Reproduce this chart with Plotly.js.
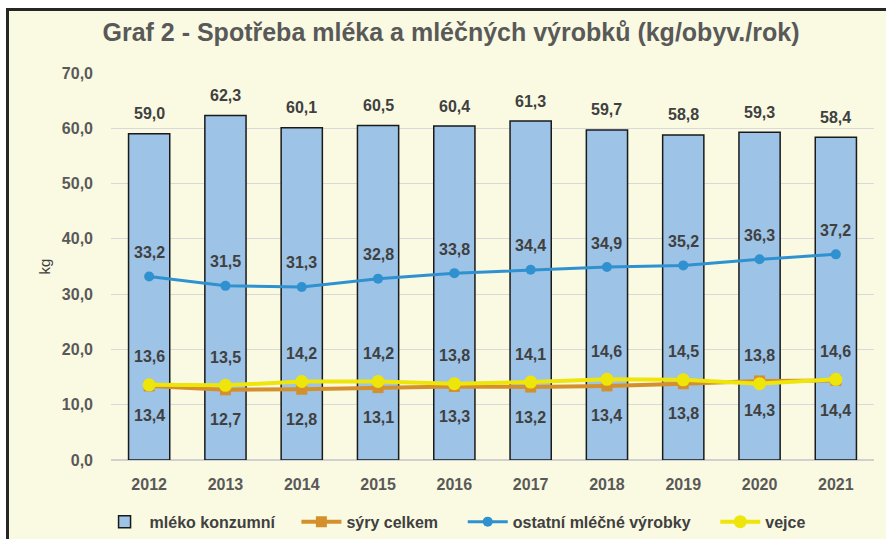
<!DOCTYPE html>
<html><head><meta charset="utf-8">
<script src="https://cdn.plot.ly/plotly-3.0.1.min.js"></script>
<style>
html,body{margin:0;padding:0;background:#fff;width:886px;height:539px;overflow:hidden;}
#frame{position:absolute;left:6px;top:8px;width:900px;height:560px;background:#FAFAE2;border-left:3px solid #262626;border-top:3px solid #262626;}
#chart{position:absolute;left:0;top:0;width:886px;height:539px;}
</style></head>
<body>
<div id="frame"></div>
<div id="chart"></div>
<script>
const years = ['2012','2013','2014','2015','2016','2017','2018','2019','2020','2021'];
const mleko = [59.0,62.3,60.1,60.5,60.4,61.3,59.7,58.8,59.3,58.4];
const syry = [13.4,12.7,12.8,13.1,13.3,13.2,13.4,13.8,14.3,14.4];
const ostatni = [33.2,31.5,31.3,32.8,33.8,34.4,34.9,35.2,36.3,37.2];
const vejce = [13.6,13.5,14.2,14.2,13.8,14.1,14.6,14.5,13.8,14.6];
const yTicks = [0,10,20,30,40,50,60,70];

const fmt = v => v.toFixed(1).replace('.', ',');
const fontFam = 'Liberation Sans Narrow, Liberation Sans, Arial';
const labelFont = {family:fontFam, size:16, color:'#404040', weight:'bold'};

const traces = [
  {type:'bar', name:'mléko konzumní', x:years, y:mleko, width:0.54, legend:'legend',
   marker:{color:'#9DC3E6', line:{color:'#1a1a1a', width:1.5}}},
  {type:'scatter', mode:'lines+markers', name:'sýry celkem', x:years, y:syry, legend:'legend2',
   line:{color:'#D4902C', width:4}, marker:{symbol:'square', size:11, color:'#D4902C'}},
  {type:'scatter', mode:'lines+markers', name:'ostatní mléčné výrobky', x:years, y:ostatni, legend:'legend3',
   line:{color:'#2F91D0', width:3}, marker:{symbol:'circle', size:10, color:'#2F91D0'}},
  {type:'scatter', mode:'lines+markers', name:'vejce', x:years, y:vejce, legend:'legend4',
   line:{color:'#EEE60A', width:4}, marker:{symbol:'circle', size:13, color:'#EEE60A'}}
];

const ann = [];
function addLabels(arr, shift){
  arr.forEach((v,i)=>ann.push({xref:'x', yref:'y', x:i, y:v, text:fmt(v), showarrow:false, yshift:shift, font:labelFont}));
}
addLabels(mleko, 20);
addLabels(ostatni, 24);
addLabels(vejce, 28);
addLabels(syry, -30);

function leg(x){
  return {orientation:'h', x:x, xanchor:'left', yref:'container', y:0.032, yanchor:'middle', itemwidth:40,
          font:{family:fontFam, size:16, color:'#404040', weight:'bold'}, bgcolor:'rgba(0,0,0,0)'};
}

const layout = {
  width:886, height:539,
  paper_bgcolor:'rgba(0,0,0,0)', plot_bgcolor:'rgba(0,0,0,0)',
  margin:{l:111, r:12, t:73, b:79},
  separators:',.',
  title:{text:'<b>Graf 2 - Spotřeba mléka a mléčných výrobků (kg/obyv./rok)</b>', x:0.509, xanchor:'center', y:0.94, yanchor:'middle',
         font:{family:fontFam, size:25, color:'#595959'}},
  showlegend:true,
  legend:leg(-0.015), legend2:leg(0.243), legend3:leg(0.461), legend4:leg(0.792),
  xaxis:{type:'category', range:[-0.5, 9.5], autorange:false, tickfont:{family:fontFam, size:16, color:'#595959', weight:'bold'},
         showgrid:false, showline:false, ticks:'', ticklabelstandoff:13},
  yaxis:{range:[0,70], autorange:false, tickvals:yTicks, tickformat:'.1f', showgrid:true, gridcolor:'#D9D9D9', gridwidth:1,
         zeroline:true, zerolinecolor:'#D0D0D0', zerolinewidth:2,
         tickfont:{family:fontFam, size:16, color:'#595959', weight:'bold'}, ticklabelstandoff:17,
         title:{text:'kg', font:{family:'Liberation Sans, Arial', size:15, color:'#404040'}, standoff:7}},
  annotations:ann,
  bargap:0.46
};
Plotly.newPlot('chart', traces, layout, {displayModeBar:false, staticPlot:true});
</script>
</body></html>
